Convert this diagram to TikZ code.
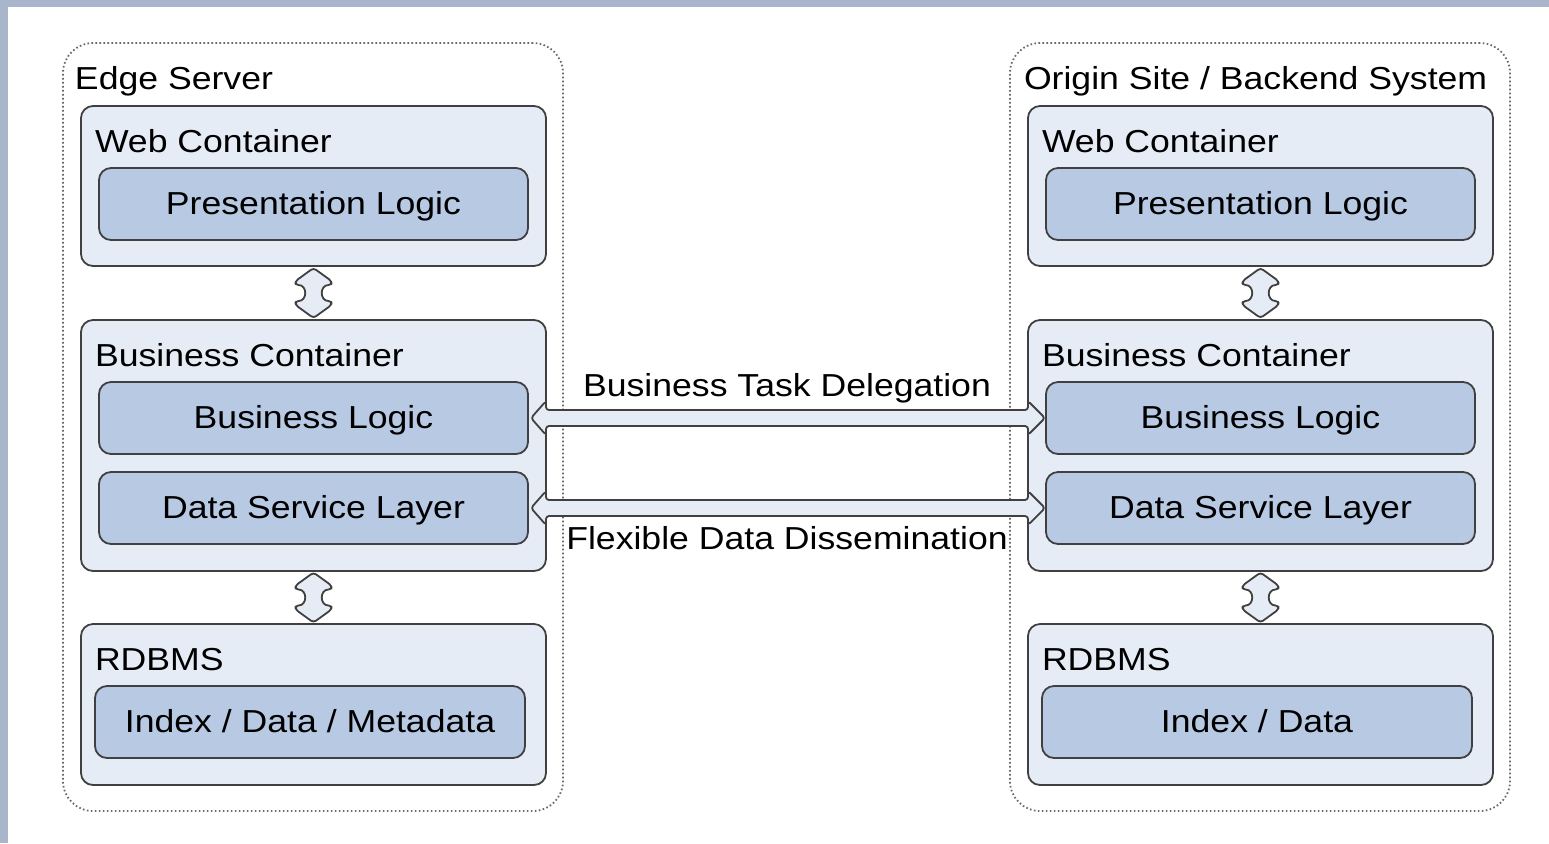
\documentclass[tikz,border=0pt]{standalone}
\usepackage{fontspec}
\setmainfont[FakeStretch=1.12]{Liberation Sans}
\usetikzlibrary{calc}
\definecolor{contfill}{HTML}{E6ECF6}
\definecolor{innerfill}{HTML}{B8C9E3}
\definecolor{edgec}{HTML}{404040}
\definecolor{dotc}{HTML}{6A6A6A}
\definecolor{bgstrip}{HTML}{A9B5CB}
\begin{document}
\begin{tikzpicture}[x=0.5pt,y=-0.5pt,
  every node/.style={font=\fontsize{15.9}{19}\selectfont, text=black, outer sep=0pt},
  outerbox/.style={draw=dotc, line width=0.9pt, dash pattern=on 0.8pt off 1.2pt, rounded corners=15pt, anchor=north west, minimum width=250pt, minimum height=384pt, inner sep=0pt},
  contbox/.style={draw=edgec, line width=0.9pt, fill=contfill, rounded corners=6pt, anchor=north west, minimum width=232.5pt, inner sep=0pt},
  innerbox/.style={draw=edgec, line width=0.9pt, fill=innerfill, rounded corners=6pt, anchor=north west, minimum width=214.5pt, minimum height=36pt, inner sep=0pt},
  lbl/.style={anchor=base west, inner sep=0pt},
  ctext/.style={anchor=base, inner sep=0pt},
  conn/.style={draw=edgec, line width=0.9pt, fill=contfill, rounded corners=1.5pt, line join=round},
  vconn/.pic={
    \draw[conn] (0,-25) -- (18,-12) -- (18,-8) .. controls (6,-8) and (6,8) .. (18,8)
      -- (18,12) -- (0,25) -- (-18,12) -- (-18,8) .. controls (-6,8) and (-6,-8) .. (-18,-8)
      -- (-18,-12) -- cycle;
  },
]
\useasboundingbox (0,0) rectangle (1549,843);
\fill[white] (0,0) rectangle (1549,843);
\fill[bgstrip] (0,0) rectangle (1549,7);
\fill[bgstrip] (0,0) rectangle (8,843);

% outer dotted boxes
\node[outerbox] (edge) at (63,43) {};
\node[outerbox] (origin) at (1010,43) {};
\node[lbl] (edgelbl) at (75,89) {Edge Server};
\node[lbl] (originlbl) at (1024,89) {Origin Site / Backend System};

% left column
\node[contbox, minimum height=80pt] (webL) at (81,106) {};
\node[lbl] (webLl) at (95,152) {Web Container};
\node[innerbox] (plL) at (99,168) {};
\node[ctext] at ($(plL.center)+(0,10)$) {Presentation Logic};

\node[contbox, minimum height=125.5pt] (busL) at (81,320) {};
\node[lbl] (busLl) at (95,366) {Business Container};
\node[innerbox] (blL) at (99,382) {};
\node[ctext] at ($(blL.center)+(0,10)$) {Business Logic};
\node[innerbox] (dsL) at (99,472) {};
\node[ctext] at ($(dsL.center)+(0,10)$) {Data Service Layer};

\node[contbox, minimum height=80.5pt] (dbL) at (81,624) {};
\node[lbl] (dbLl) at (95,670) {RDBMS};
\node[innerbox, minimum width=215pt] (idxL) at (95,686) {};
\node[ctext] at ($(idxL.center)+(0,10)$) {Index / Data / Metadata};

% right column
\node[contbox, minimum height=80pt] (webR) at (1028,106) {};
\node[lbl] (webRl) at (1042,152) {Web Container};
\node[innerbox] (plR) at (1046,168) {};
\node[ctext] at ($(plR.center)+(0,10)$) {Presentation Logic};

\node[contbox, minimum height=125.5pt] (busR) at (1028,320) {};
\node[lbl] (busRl) at (1042,366) {Business Container};
\node[innerbox] (blR) at (1046,382) {};
\node[ctext] at ($(blR.center)+(0,10)$) {Business Logic};
\node[innerbox] (dsR) at (1046,472) {};
\node[ctext] at ($(dsR.center)+(0,10)$) {Data Service Layer};

\node[contbox, minimum height=80.5pt] (dbR) at (1028,624) {};
\node[lbl] (dbRl) at (1042,670) {RDBMS};
\node[innerbox, minimum width=215pt] (idxR) at (1042,686) {};
\node[ctext] at ($(idxR.center)+(0,10)$) {Index / Data};

% vertical double arrows
\coordinate (v1) at ($(webL.south)!0.5!(busL.north)$);
\coordinate (v2) at ($(busL.south)!0.5!(dbL.north)$);
\coordinate (v3) at ($(webR.south)!0.5!(busR.north)$);
\coordinate (v4) at ($(busR.south)!0.5!(dbR.north)$);
\pic at (v1) {vconn};
\pic at (v2) {vconn};
\pic at (v3) {vconn};
\pic at (v4) {vconn};

% horizontal double arrows
\coordinate (a1) at (busL.east |- blL.center);
\coordinate (b1) at (busR.west |- blR.center);
\coordinate (a2) at (busL.east |- dsL.center);
\coordinate (b2) at (busR.west |- dsR.center);
\draw[conn] ($(a1)+(-15,0)$) -- ($(a1)+(0,-17)$) -- ($(a1)+(0,-8)$) -- ($(b1)+(0,-8)$)
  -- ($(b1)+(0,-17)$) -- ($(b1)+(17,0)$) -- ($(b1)+(0,17)$) -- ($(b1)+(0,8)$)
  -- ($(a1)+(0,8)$) -- ($(a1)+(0,17)$) -- cycle;
\draw[conn] ($(a2)+(-15,0)$) -- ($(a2)+(0,-17)$) -- ($(a2)+(0,-8)$) -- ($(b2)+(0,-8)$)
  -- ($(b2)+(0,-17)$) -- ($(b2)+(17,0)$) -- ($(b2)+(0,17)$) -- ($(b2)+(0,8)$)
  -- ($(a2)+(0,8)$) -- ($(a2)+(0,17)$) -- cycle;
\node[ctext] (btd) at (787,396) {Business Task Delegation};
\node[ctext] (fdd) at (787,549) {Flexible Data Dissemination};
\end{tikzpicture}
\end{document}
